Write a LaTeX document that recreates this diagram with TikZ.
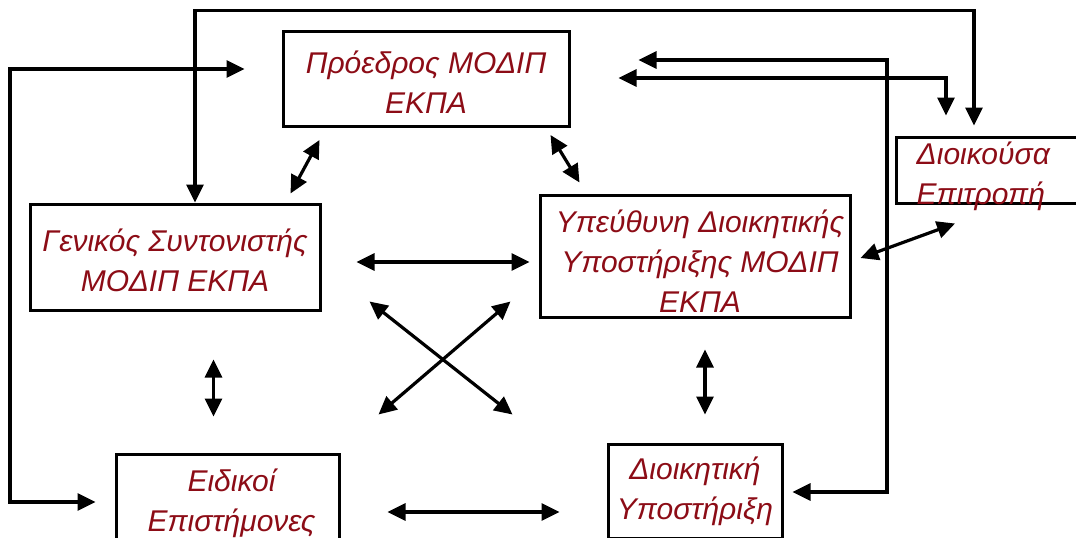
\documentclass[tikz,border=0pt]{standalone}
\usepackage{fontspec}
\setmainfont{Liberation Sans}
\usepackage{xcolor}
\usetikzlibrary{arrows.meta}
\usetikzlibrary{calc}

\definecolor{boxred}{RGB}{140,12,22}

\tikzset{
  box/.style={draw, line width=3pt, inner sep=0pt},
  boxtext/.style={inner sep=0pt, font=\fontsize{30pt}{40pt}\selectfont\itshape,
    text=boxred, align=center},
  link/.style={line width=3.2pt},
  >={Triangle[length=18pt,width=17pt]}
}

\begin{document}
\begin{tikzpicture}[x=1pt,y=-1pt]
      \clip (0,0) rectangle (1076,538);

      % Boxes
      \node[box, minimum width=286pt, minimum height=95pt] (pres) at (426,79) {};
      \node[box, minimum width=290pt, minimum height=106pt] (gen) at (175,257) {};
      \node[box, minimum width=310pt, minimum height=122pt] (resp) at (695,256) {};
      \node[box, minimum width=204pt, minimum height=66pt] (board) at (998,170) {};
      \node[box, minimum width=223pt, minimum height=102pt] (spec) at (227.5,505) {};
      \node[box, minimum width=174pt, minimum height=94pt] (admin) at (695,491) {};

      % Texts
      \node[boxtext] (pres-t) at ($(pres.center)+(0,3)$) {Πρόεδρος ΜΟΔΙΠ\\ΕΚΠΑ};
      \node[boxtext] (gen-t) at ($(gen.center)+(0,3)$) {Γενικός Συντονιστής\\ΜΟΔΙΠ ΕΚΠΑ};
      \node[boxtext] (resp-t) at ($(resp.center)+(5,5)$) {Υπεύθυνη Διοικητικής\\Υποστήριξης ΜΟΔΙΠ\\ΕΚΠΑ};
      \node[boxtext, align=left, anchor=west] (board-t) at ($(board.west)+(22,6)$) {Διοικούσα\\Επιτροπή};
      \node[boxtext] (spec-t) at ($(spec.center)+(4,-2)$) {Ειδικοί\\Επιστήμονες};
      \node[boxtext] (admin-t) at ($(admin.center)+(0,0)$) {Διοικητική\\Υποστήριξη};

      % Loops
      \coordinate (topL) at ($(gen.north)+(20,-192)$);
      \coordinate (topR) at ($(board.north)+(-24,-125)$);
      \draw[link,<->] ($(gen.north)+(20,0)$) -- (topL) -- (topR) -- ($(board.north)+(-24,-10)$);

      \coordinate (leftT) at (10,69);
      \coordinate (leftB) at (10,502);
      \draw[link,<->] ($(pres.west)+(-37,-10)$) -- (leftT) -- (leftB) -- ($(spec.west)+(-19,-3)$);

      \coordinate (rightT) at (887,60);
      \coordinate (rightB) at (887,492);
      \draw[link,<->] ($(pres.east)+(68,-19)$) -- (rightT) -- (rightB) -- ($(admin.east)+(9,1)$);

      \coordinate (midR) at (946,78);
      \draw[link,<->] ($(pres.east)+(48,-1)$) -- (midR) -- ($(board.north)+(-52,-20)$);

      % Short links
      \draw[link,<->] ($(pres.south west)+(38,12)$) -- ($(gen.north east)+(-31,-9)$);
      \draw[link,<->] ($(pres.south east)+(-20,7)$) -- ($(resp.north west)+(41,-11)$);
      \draw[link,<->] ($(gen.east)+(35,5)$) -- ($(resp.west)+(-9,6)$);
      \draw[link,<->] ($(resp.east)+(9,2)$) -- ($(board.south)+(-43,19)$);
      \draw[link,<->] ($(gen.south east)+(48,-10)$) -- ($(spec.north east)+(172,-38)$);
      \draw[link,<->] ($(resp.south west)+(-28,-17)$) -- ($(spec.north east)+(38,-38)$);
      \draw[link,<->] ($(gen.south)+(38.5,48)$) -- ($(spec.north)+(-14,-36)$);
      \draw[link,<->] ($(resp.south)+(10,31)$) -- ($(admin.north)+(10,-28)$);
      \draw[link,<->] ($(spec.east)+(47,7)$) -- ($(admin.west)+(-47,21)$);
  \end{tikzpicture}
\end{document}
